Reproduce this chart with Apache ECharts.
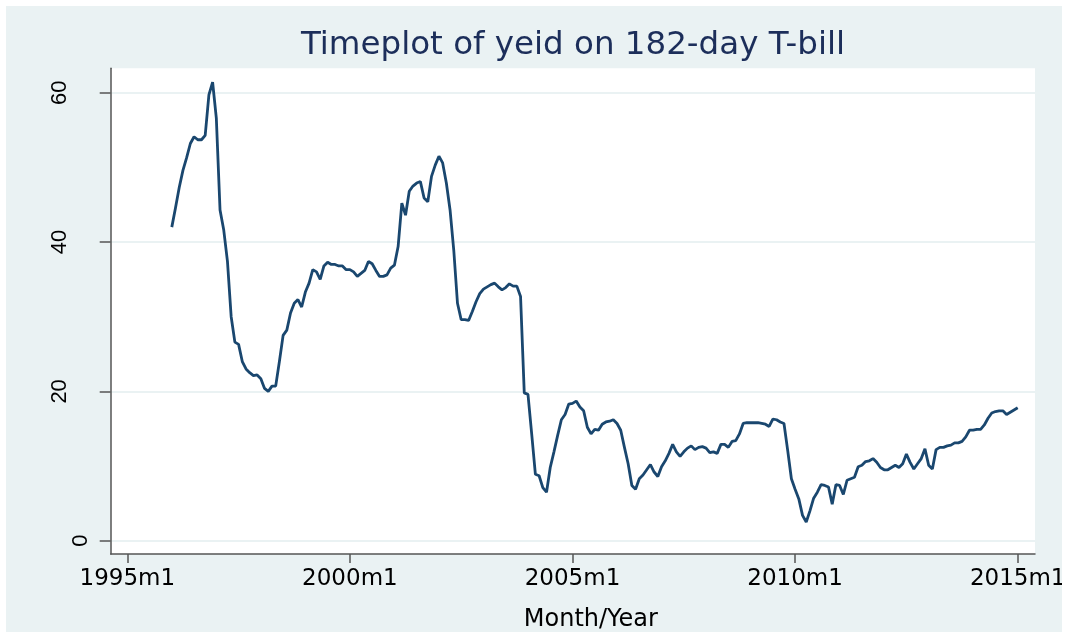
<!DOCTYPE html>
<html>
<head>
<meta charset="utf-8">
<title>Timeplot of yeid on 182-day T-bill</title>
<script src="https://cdn.jsdelivr.net/npm/echarts@6/dist/echarts.min.js"></script>
<style>
    html, body { margin: 0; padding: 0; background: #fff; }
    #chart { position: absolute; left: 6px; top: 6px; width: 1056px; height: 626px; }
</style>
</head>
<body>
<div id="chart"></div>
<script>
// yield on the 182-day T-bill, one value per month from 1996m1 to 2015m1
var startYear = 1996;
var yieldValues = [
    42.0, 44.6, 47.3, 49.6, 51.3, 53.2, 54.1, 53.7, 53.7, 54.3, 59.7, 61.4, // 1996
    56.6, 44.3, 41.6, 37.4, 30.0, 26.6, 26.3, 24.0, 23.0, 22.5, 22.1, 22.2, // 1997
    21.7, 20.4, 20.0, 20.7, 20.7, 24.0, 27.5, 28.2, 30.5, 31.8, 32.3, 31.3, // 1998
    33.3, 34.5, 36.3, 36.0, 35.0, 36.8, 37.3, 37.0, 37.0, 36.8, 36.8, 36.3, // 1999
    36.3, 36.0, 35.4, 35.8, 36.2, 37.4, 37.1, 36.2, 35.4, 35.4, 35.6, 36.5, // 2000
    36.9, 39.4, 45.2, 43.6, 46.8, 47.5, 47.9, 48.1, 45.9, 45.4, 48.8, 50.3, // 2001
    51.5, 50.6, 47.9, 44.3, 38.9, 31.8, 29.6, 29.6, 29.5, 30.7, 32.0, 33.1, // 2002
    33.7, 34.0, 34.3, 34.5, 34.0, 33.6, 33.9, 34.4, 34.1, 34.1, 32.7, 19.8, // 2003
    19.6, 14.3, 8.9, 8.7, 7.1, 6.5, 9.8, 11.9, 14.1, 16.2, 16.9, 18.3,     // 2004
    18.4, 18.7, 17.9, 17.4, 15.2, 14.3, 14.9, 14.8, 15.6, 15.9, 16.0, 16.2, // 2005
    15.7, 14.8, 12.5, 10.3, 7.4, 6.9, 8.3, 8.8, 9.5, 10.2, 9.2, 8.6,       // 2006
    9.9, 10.7, 11.7, 12.9, 11.9, 11.3, 11.9, 12.4, 12.7, 12.2, 12.5, 12.6, // 2007
    12.4, 11.8, 11.9, 11.7, 12.9, 12.9, 12.5, 13.3, 13.4, 14.3, 15.7, 15.8, // 2008
    15.8, 15.8, 15.8, 15.7, 15.6, 15.3, 16.3, 16.2, 15.9, 15.7, 12.1, 8.3, // 2009
    6.9, 5.6, 3.4, 2.5, 4.0, 5.7, 6.5, 7.5, 7.4, 7.2, 4.9, 7.5,            // 2010
    7.4, 6.2, 8.1, 8.3, 8.5, 9.9, 10.1, 10.6, 10.7, 11.0, 10.5, 9.8,       // 2011
    9.5, 9.5, 9.8, 10.1, 9.8, 10.3, 11.6, 10.5, 9.6, 10.3, 11.0, 12.3,     // 2012
    10.1, 9.6, 12.2, 12.5, 12.5, 12.7, 12.8, 13.1, 13.1, 13.3, 13.9, 14.8, // 2013
    14.8, 14.9, 14.9, 15.5, 16.4, 17.1, 17.3, 17.4, 17.4, 16.9, 17.2, 17.5, // 2014
    17.8                                                                    // 2015
];
var xTickYears = [1995, 2000, 2005, 2010, 2015];
var yTickValues = [0, 20, 40, 60];

// x is counted in months from 1995m1
var baseYear = 1995;
var months = yieldValues.map(function (v, i) {
    return (startYear + Math.floor(i / 12)) + 'm' + (i % 12 + 1);
});
var seriesData = yieldValues.map(function (v, i) {
    return [(startYear - baseYear) * 12 + i, v, months[i]];
});
var xTicks = xTickYears.map(function (y) { return (y - baseYear) * 12; });

var font = 'DejaVu Sans';
var axisColor = '#555';

var chart = echarts.init(document.getElementById('chart'));
chart.setOption({
    backgroundColor: '#eaf2f3',
    animation: false,
    title: {
        text: 'Timeplot of yeid on 182-day T-bill',
        left: 567,
        top: 23,
        textAlign: 'center',
        padding: 0,
        textStyle: { fontFamily: font, fontSize: 32.5, fontWeight: 'normal', color: '#1c2e5a' }
    },
    grid: {
        left: 104.7, right: 27, top: 62.3, bottom: 78,
        show: true, backgroundColor: '#fff', borderWidth: 0,
        containLabel: false, outerBoundsMode: 'none'
    },
    xAxis: {
        type: 'value',
        min: -4.47,
        max: 244.66,
        name: 'Month/Year',
        nameLocation: 'middle',
        nameGap: 54,
        nameTextStyle: { fontFamily: font, fontSize: 24, color: '#000', padding: [0, 0, 0, 36] },
        axisLine: { onZero: false, lineStyle: { color: axisColor, width: 1.5 } },
        axisTick: { length: 9, customValues: xTicks, lineStyle: { color: axisColor, width: 1.5 } },
        axisLabel: {
            customValues: xTicks,
            margin: 14,
            fontFamily: font, fontSize: 23, color: '#000',
            formatter: function (v) { return (baseYear + v / 12) + 'm1'; }
        },
        splitLine: { show: false }
    },
    yAxis: [{
        type: 'value',
        min: -1.78,
        max: 63.27,
        axisLine: { show: true, onZero: false, lineStyle: { color: axisColor, width: 1.5 } },
        axisTick: { show: true, length: 11, customValues: yTickValues, lineStyle: { color: axisColor, width: 1.5 } },
        axisLabel: {
            rotate: 90, margin: 40, customValues: yTickValues.slice(1),
            fontFamily: 'Liberation Sans', fontSize: 22, color: '#000'
        },
        splitLine: { show: true, lineStyle: { color: '#eaf2f3', width: 2 } }
    }, {
        // the zero label sits closer to the axis in the original
        type: 'value',
        min: -1.78,
        max: 63.27,
        position: 'left',
        axisLine: { show: false },
        axisTick: { show: false },
        splitLine: { show: false },
        axisLabel: {
            rotate: 90, margin: 19, customValues: [0],
            fontFamily: 'Liberation Sans', fontSize: 22, color: '#000'
        }
    }],
    series: [{
        type: 'line',
        data: seriesData,
        symbol: 'none',
        lineStyle: { color: '#1a476f', width: 2.8 }
    }]
});
</script>
</body>
</html>
